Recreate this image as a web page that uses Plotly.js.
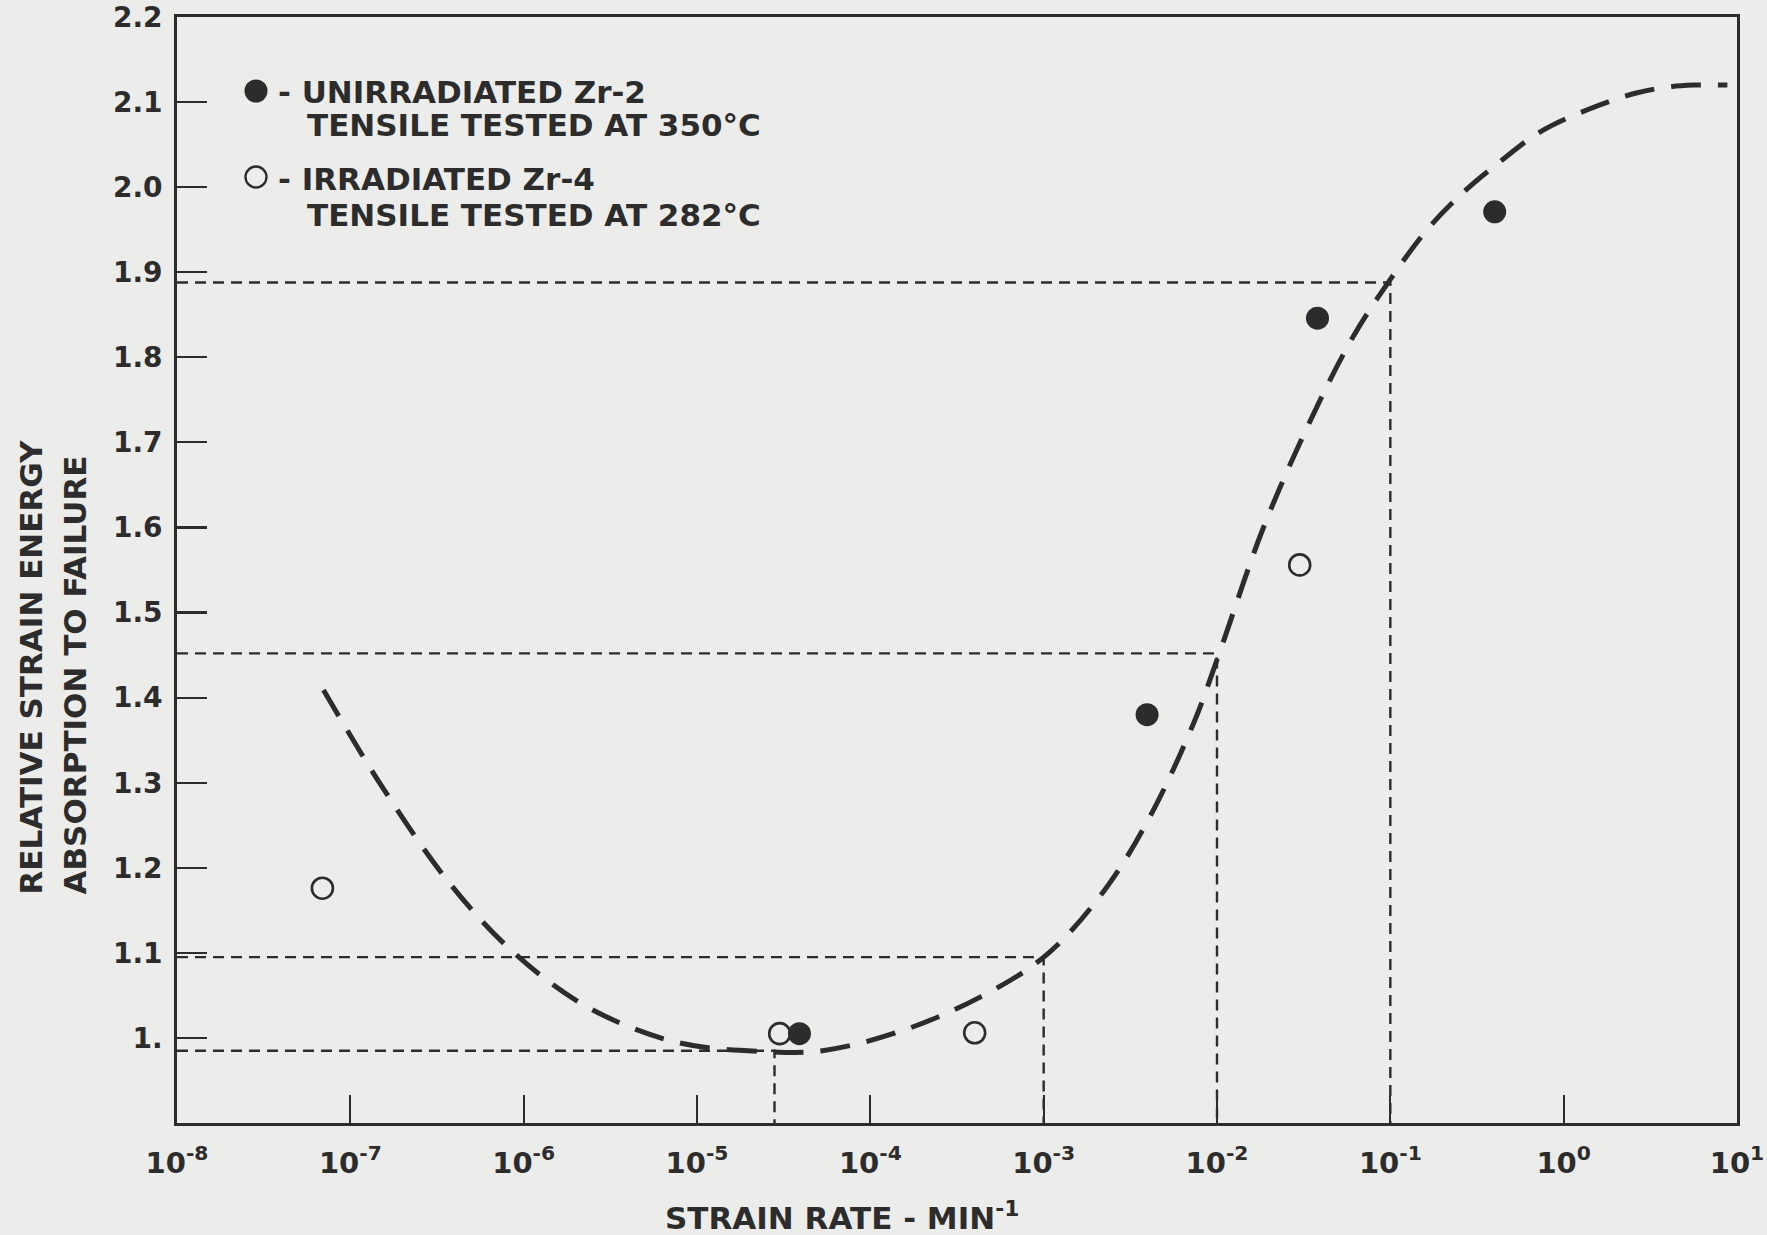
<!DOCTYPE html>
<html>
<head>
<meta charset="utf-8">
<script src="https://cdn.plot.ly/plotly-3.0.1.min.js"></script>
<style>
  html, body { margin: 0; padding: 0; background: #ececea; }
  #chart { width: 1767px; height: 1235px; }
</style>
</head>
<body>
<div id="chart"></div>
<script>
// Fitted trend of relative strain energy vs strain rate (min^-1)
const curveRate = [7.0e-8, 1.55e-7, 3.8e-7, 8.7e-7, 2.3e-6, 7.6e-6, 2.5e-5, 5.3e-5, 1.5e-4, 4.3e-4,
  1.03e-3, 2.25e-3, 4.1e-3, 7.4e-3, 1.03e-2, 1.83e-2, 3.3e-2, 6.05e-2, 9.8e-2, 0.163,
  0.264, 0.43, 0.733, 1.37, 2.66, 4.12, 5.6, 8.8];
const curveEnergy = [1.409, 1.293, 1.180, 1.101, 1.037, 0.995, 0.984, 0.985, 1.008, 1.048,
  1.097, 1.174, 1.260, 1.372, 1.452, 1.597, 1.717, 1.823, 1.889, 1.950,
  1.994, 2.030, 2.065, 2.091, 2.111, 2.118, 2.120, 2.120];

// Unirradiated Zr-2, tensile tested at 350 C
const unirrRate = [3.9e-5, 3.95e-3, 3.8e-2, 0.40];
const unirrEnergy = [1.005, 1.380, 1.846, 1.971];

// Irradiated Zr-4, tensile tested at 282 C
const irrRate = [6.9e-8, 3.0e-5, 4.0e-4, 3.0e-2];
const irrEnergy = [1.176, 1.005, 1.006, 1.556];

// Read-off guide lines: strain rate where the curve reaches each energy level
const guideRate = [0.1, 1e-2, 1e-3, 2.8e-5];
const guideEnergy = [1.888, 1.452, 1.095, 0.985];

// Axis ticks
const xTickVals = [1e-8, 1e-7, 1e-6, 1e-5, 1e-4, 1e-3, 1e-2, 1e-1, 1e0, 1e1];
const xTickText = ['10<sup>-8</sup>', '10<sup>-7</sup>', '10<sup>-6</sup>', '10<sup>-5</sup>', '10<sup>-4</sup>',
  '10<sup>-3</sup>', '10<sup>-2</sup>', '10<sup>-1</sup>', '10<sup>0</sup>', '10<sup>1</sup>'];
const yTickVals = [1.0, 1.1, 1.2, 1.3, 1.4, 1.5, 1.6, 1.7, 1.8, 1.9, 2.0, 2.1, 2.2];
const yTickText = ['1.', '1.1', '1.2', '1.3', '1.4', '1.5', '1.6', '1.7', '1.8', '1.9', '2.0', '2.1', '2.2'];

const xMin = 1e-8, xMax = 1e1, yMin = 0.9, yMax = 2.2;

const INK = '#2c2c2c';
const FONT = 'DejaVu Sans, Arial, sans-serif';

const traces = [];

// Dashed guide lines (horizontal from the y axis, then down to the x axis)
guideRate.forEach((r, i) => {
  traces.push({
    x: [xMin, r, r],
    y: [guideEnergy[i], guideEnergy[i], yMin],
    mode: 'lines',
    line: { color: INK, width: 2.4, dash: '11px,7px' },
    hoverinfo: 'skip',
    showlegend: false
  });
});

// Trend curve
traces.push({
  x: curveRate,
  y: curveEnergy,
  mode: 'lines',
  name: 'trend',
  line: { color: INK, width: 5, dash: '30px,17px', shape: 'spline', smoothing: 1 },
  showlegend: false
});

traces.push({
  x: unirrRate, y: unirrEnergy, mode: 'markers',
  name: 'UNIRRADIATED Zr-2',
  marker: { symbol: 'circle', size: 23, color: INK, line: { width: 0 } },
  showlegend: false
});

traces.push({
  x: irrRate, y: irrEnergy, mode: 'markers',
  name: 'IRRADIATED Zr-4',
  marker: { symbol: 'circle-open', size: 21, color: INK, line: { width: 2.6, color: INK } },
  showlegend: false
});

// Plot area in pixels
const L = 177, R = 1737, T = 17, B = 1123;
const px = v => (v - L) / (R - L);
const py = v => (B - v) / (B - T);

const legendFont = { family: FONT, size: 31, color: INK, weight: 700 };
const titleFont = { family: FONT, size: 31, color: INK, weight: 700 };

const annotations = [
  { text: '- UNIRRADIATED Zr-2', x: px(276), y: py(92) },
  { text: 'TENSILE TESTED AT 350°C', x: px(305), y: py(125) },
  { text: '- IRRADIATED Zr-4', x: px(276), y: py(179) },
  { text: 'TENSILE TESTED AT 282°C', x: px(305), y: py(215) }
].map(a => Object.assign({
  xref: 'paper', yref: 'paper', xanchor: 'left', yanchor: 'middle',
  showarrow: false, font: legendFont
}, a));

annotations.push({
  text: 'STRAIN RATE - MIN<sup>-1</sup>',
  xref: 'paper', yref: 'paper', x: px(842), y: py(1216),
  xanchor: 'center', yanchor: 'middle', showarrow: false, font: titleFont
});
annotations.push({
  text: 'RELATIVE STRAIN ENERGY',
  xref: 'paper', yref: 'paper', x: px(30), y: py(897),
  xanchor: 'center', yanchor: 'bottom', textangle: -90, showarrow: false, font: titleFont
});
annotations.push({
  text: 'ABSORPTION TO FAILURE',
  xref: 'paper', yref: 'paper', x: px(74), y: py(897),
  xanchor: 'center', yanchor: 'bottom', textangle: -90, showarrow: false, font: titleFont
});

const shapes = [
  {
    type: 'circle', xref: 'paper', yref: 'paper',
    xsizemode: 'pixel', ysizemode: 'pixel',
    xanchor: px(256), yanchor: py(91),
    x0: -11.5, x1: 11.5, y0: -11.5, y1: 11.5,
    fillcolor: INK, line: { width: 0 }
  },
  {
    type: 'circle', xref: 'paper', yref: 'paper',
    xsizemode: 'pixel', ysizemode: 'pixel',
    xanchor: px(256), yanchor: py(177),
    x0: -10.5, x1: 10.5, y0: -10.5, y1: 10.5,
    fillcolor: 'rgba(0,0,0,0)', line: { width: 2.4, color: INK }
  }
];

const layout = {
  width: 1767, height: 1235,
  margin: { l: L, r: 1767 - R, t: T, b: 1235 - B, pad: 0 },
  paper_bgcolor: '#ececea',
  plot_bgcolor: '#ececea',
  showlegend: false,
  xaxis: {
    type: 'log',
    range: [Math.log10(xMin), Math.log10(xMax)],
    tickvals: xTickVals, ticktext: xTickText,
    ticks: 'inside', ticklen: 28, tickwidth: 2.2, tickcolor: INK,
    ticklabelstandoff: 12,
    showline: true, linewidth: 2.8, linecolor: INK, mirror: true,
    showgrid: false, zeroline: false,
    tickfont: { family: FONT, size: 29, color: INK, weight: 700 }
  },
  yaxis: {
    range: [yMin, yMax],
    tickvals: yTickVals, ticktext: yTickText,
    ticks: 'inside', ticklen: 30, tickwidth: 2.2, tickcolor: INK,
    ticklabelstandoff: 6,
    showline: true, linewidth: 2.8, linecolor: INK, mirror: true,
    showgrid: false, zeroline: false,
    tickfont: { family: FONT, size: 28, color: INK, weight: 700 }
  },
  annotations: annotations,
  shapes: shapes
};

Plotly.newPlot('chart', traces, layout, { displayModeBar: false, staticPlot: true });
</script>
</body>
</html>
